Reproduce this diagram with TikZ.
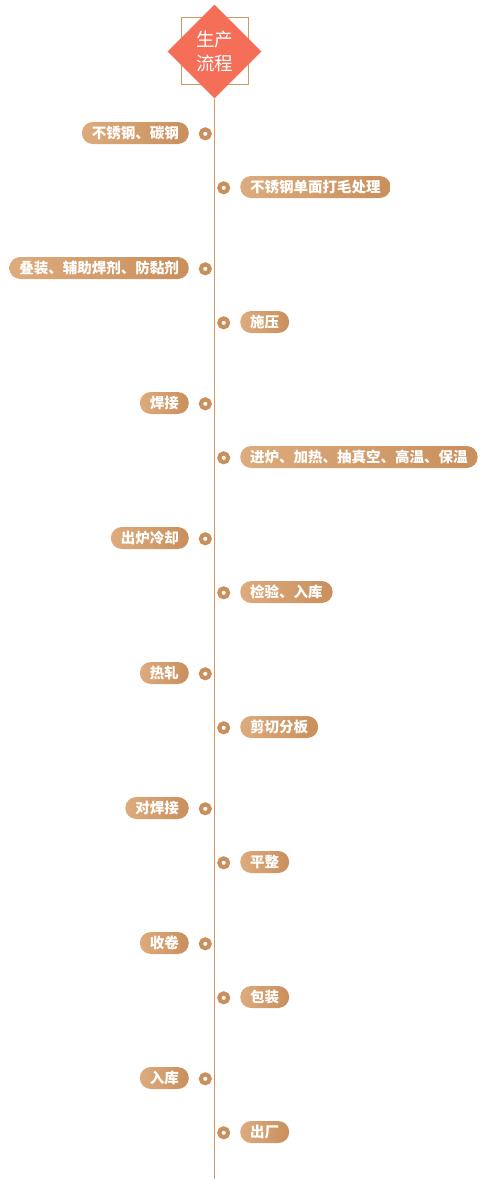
\documentclass[tikz,border=0pt]{standalone}
\usepackage{fontspec}
\setmainfont{Noto Sans CJK SC}
\usetikzlibrary{shapes.geometric}
\definecolor{pillL}{HTML}{DDAB7E}
\definecolor{pillR}{HTML}{C98F5C}
\definecolor{tanline}{HTML}{CF9A66}
\definecolor{dotc}{HTML}{C98F5C}
\definecolor{coral}{HTML}{F56E57}
\begin{document}
\begin{tikzpicture}[x=1pt,y=-1pt,
  pill/.style={rounded corners=11pt, minimum height=22pt, inner xsep=10pt, inner ysep=0pt,
    text height=12pt, text depth=1.6pt, left color=pillL, right color=pillR, draw=none,
    text=white, font=\fontsize{14.5pt}{14.5pt}\selectfont\bfseries},
  ringdot/.style={circle, draw=dotc, fill=white, line width=4.1pt, minimum size=8.8pt, inner sep=0pt},
  frame/.style={draw=tanline, line width=0.8pt, minimum size=67pt, inner sep=0pt},
  title/.style={diamond, fill=coral, minimum width=94pt, minimum height=94pt, inner sep=0pt,
    text=white, align=center, font=\fontsize{18.5pt}{24pt}\selectfont},
  spine/.style={draw=tanline, line width=1pt}]
\useasboundingbox (0,0) rectangle (489,1187);
\node[frame] (box) at (215.3,50.5) {};
\node[title] (head) at (214.5,51.5) {生产\\流程};
\coordinate (tail) at (214.5,1179);
\draw[spine] (head.south) -- (tail);
\foreach \t [count=\i] in {不锈钢、碳钢,叠装、辅助焊剂、防黏剂,焊接,出炉冷却,热轧,对焊接,收卷,入库}{
  \pgfmathsetmacro{\yy}{133+135*(\i-1)}
  \node[ringdot] (dl\i) at (205.3,\yy+0.8) {};
  \node[pill, anchor=east] (L\i) at (189,\yy) {\t};
}
\foreach \t [count=\i] in {不锈钢单面打毛处理,施压,进炉、加热、抽真空、高温、保温,检验、入库,剪切分板,平整,包装,出厂}{
  \pgfmathsetmacro{\yy}{187+135*(\i-1)}
  \node[ringdot] (dr\i) at (223.7,\yy+0.8) {};
  \node[pill, anchor=west] (R\i) at (240,\yy) {\t};
}
\end{tikzpicture}
\end{document}
